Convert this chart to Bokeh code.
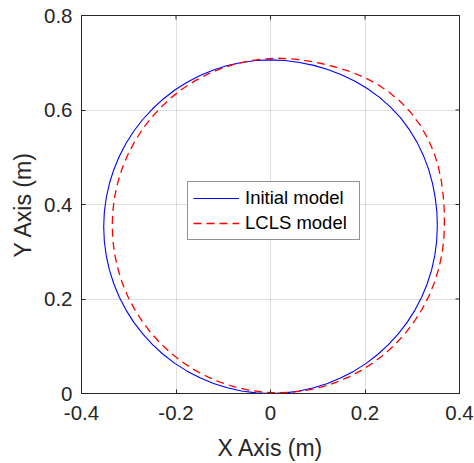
import math
from bokeh.plotting import figure
from bokeh.models import Range1d, FixedTicker
from bokeh.embed import file_html
from bokeh.resources import INLINE

# Initial model trajectory
blue_x = [0.353, 0.3522, 0.3486, 0.3429, 0.3345, 0.3236, 0.31, 0.2937, 0.275, 0.2535,
          0.2301, 0.2048, 0.178, 0.15, 0.1211, 0.0915, 0.0613, 0.0308, 0.0,
          -0.0308, -0.0613, -0.0914, -0.1207, -0.1492, -0.1765, -0.2025, -0.2269, -0.2496,
          -0.2704, -0.2892, -0.3057, -0.3199, -0.3317, -0.341, -0.3476, -0.3517, -0.353,
          -0.3517, -0.3476, -0.341, -0.3317, -0.3199, -0.3057, -0.2892, -0.2704, -0.2496,
          -0.2269, -0.2025, -0.1765, -0.1492, -0.1207, -0.0914, -0.0613, -0.0308, 0.0,
          0.0308, 0.0613, 0.0914, 0.1207, 0.1492, 0.1765, 0.2025, 0.2269, 0.2496,
          0.2704, 0.2892, 0.3057, 0.3199, 0.3317, 0.341, 0.3476, 0.3517]
blue_y = [0.353, 0.3838, 0.4145, 0.4449, 0.4748, 0.5039, 0.532, 0.5586, 0.5838, 0.6065,
          0.6272, 0.6455, 0.6613, 0.6747, 0.6857, 0.6944, 0.7006, 0.7047, 0.706,
          0.7047, 0.7006, 0.694, 0.6847, 0.6729, 0.6587, 0.6422, 0.6234, 0.6026,
          0.5799, 0.5555, 0.5295, 0.5022, 0.4737, 0.4444, 0.4143, 0.3838, 0.353,
          0.3222, 0.2917, 0.2616, 0.2323, 0.2038, 0.1765, 0.1505, 0.1261, 0.1034,
          0.0826, 0.0638, 0.0473, 0.0331, 0.0213, 0.012, 0.0054, 0.0013, 0.0,
          0.0013, 0.0054, 0.012, 0.0213, 0.0331, 0.0473, 0.0638, 0.0826, 0.1034,
          0.1261, 0.1505, 0.1765, 0.2038, 0.2323, 0.2616, 0.2917, 0.3222]

# LCLS model trajectory
red_x = [0.368, 0.3677, 0.3656, 0.3618, 0.3553, 0.3459, 0.333, 0.3171, 0.298, 0.276,
         0.2514, 0.225, 0.1968, 0.1676, 0.1377, 0.1077, 0.0775, 0.0472, 0.0165,
         -0.0142, -0.0445, -0.0745, -0.1037, -0.132, -0.1593, -0.1851, -0.2094, -0.232,
         -0.2527, -0.2714, -0.2879, -0.3021, -0.3138, -0.323, -0.3297, -0.3337, -0.335,
         -0.3337, -0.3297, -0.323, -0.3138, -0.3021, -0.2879, -0.2714, -0.2527, -0.232,
         -0.2094, -0.1851, -0.1593, -0.132, -0.1037, -0.0745, -0.0445, -0.0142, 0.0165,
         0.0472, 0.0775, 0.1075, 0.1367, 0.165, 0.1923, 0.2181, 0.2424, 0.265,
         0.2857, 0.3044, 0.3209, 0.3351, 0.3468, 0.356, 0.3627, 0.3667]
red_y = [0.3555, 0.3865, 0.4175, 0.4487, 0.4796, 0.5102, 0.5395, 0.5674, 0.5933, 0.6168,
         0.6374, 0.6553, 0.6699, 0.6818, 0.691, 0.6984, 0.7041, 0.7082, 0.7095,
         0.7082, 0.7041, 0.6974, 0.6882, 0.6763, 0.6621, 0.6455, 0.6267, 0.6058,
         0.5831, 0.5586, 0.5325, 0.5051, 0.4766, 0.4471, 0.417, 0.3864, 0.3555,
         0.3246, 0.294, 0.2639, 0.2344, 0.2059, 0.1785, 0.1524, 0.1279, 0.1052,
         0.0843, 0.0655, 0.0489, 0.0347, 0.0228, 0.0136, 0.0069, 0.0028, 0.0015,
         0.0028, 0.0069, 0.0136, 0.0228, 0.0347, 0.0489, 0.0655, 0.0843, 0.1052,
         0.1279, 0.1524, 0.1785, 0.2059, 0.2344, 0.2639, 0.294, 0.3246]

x_ticks = [-0.4, -0.2, 0, 0.2, 0.4]
x_tick_labels = ["-0.4", "-0.2", "0", "0.2", "0.4"]
y_ticks = [0, 0.2, 0.4, 0.6, 0.8]
y_tick_labels = ["0", "0.2", "0.4", "0.6", "0.8"]

FONT = "Liberation Sans"
DARK = "#262626"

p = figure(width=474, height=463, x_range=Range1d(-0.4, 0.4), y_range=Range1d(0, 0.8),
           output_backend="svg", toolbar_location=None,
           min_border_left=81, min_border_right=15, min_border_top=15, min_border_bottom=70)
p.background_fill_color = "white"
p.border_fill_color = "white"
p.outline_line_color = DARK
p.outline_line_width = 1

p.line(blue_x + blue_x[:1], blue_y + blue_y[:1], line_color="blue", line_width=1.1,
       legend_label="Initial model")
p.line(red_x + red_x[:1], red_y + red_y[:1], line_color="red", line_width=1.3,
       line_dash="8 5", legend_label="LCLS model")

# inward tick marks on the top and right box edges
y_top = p.y_range.end
x_right = p.x_range.end
p.scatter(x_ticks, [y_top] * len(x_ticks), marker="dash", angle=math.pi / 2, size=8,
          line_color=DARK, line_width=1)
p.scatter([x_right] * len(y_ticks), y_ticks, marker="dash", size=8,
          line_color=DARK, line_width=1)

p.xaxis.ticker = FixedTicker(ticks=x_ticks)
p.yaxis.ticker = FixedTicker(ticks=y_ticks)
p.xaxis.major_label_overrides = {t: l for t, l in zip(x_ticks, x_tick_labels)}
p.yaxis.major_label_overrides = {t: l for t, l in zip(y_ticks, y_tick_labels)}
p.xaxis.axis_label = "X Axis (m)"
p.yaxis.axis_label = "Y Axis (m)"

for ax in (p.xaxis[0], p.yaxis[0]):
    ax.axis_line_color = DARK
    ax.major_tick_line_color = DARK
    ax.major_tick_in = 4
    ax.major_tick_out = 0
    ax.minor_tick_line_color = None
    ax.major_label_text_font = FONT
    ax.major_label_text_font_size = "20.5px"
    ax.major_label_text_color = DARK
    ax.axis_label_text_font = FONT
    ax.axis_label_text_font_size = "23px"
    ax.axis_label_text_font_style = "normal"
    ax.axis_label_text_color = DARK
p.xaxis.major_label_standoff = 12
p.xaxis.axis_label_standoff = 12
p.yaxis.major_label_standoff = 9
p.yaxis.axis_label_standoff = 5

p.xgrid.ticker = FixedTicker(ticks=x_ticks)
p.ygrid.ticker = FixedTicker(ticks=y_ticks)
p.grid.grid_line_color = DARK
p.grid.grid_line_alpha = 0.15

lg = p.legend[0]
lg.location = (106, 153)
lg.margin = 0
lg.padding = 5
lg.spacing = 3
lg.glyph_width = 46
lg.glyph_height = 20
lg.label_height = 20
lg.label_width = 109
lg.label_standoff = 6
lg.label_text_font = FONT
lg.label_text_font_size = "18.5px"
lg.label_text_color = "black"
lg.border_line_color = DARK
lg.border_line_width = 1
lg.background_fill_color = "white"
lg.background_fill_alpha = 1

open("out.html", "w").write(file_html(p, INLINE))
